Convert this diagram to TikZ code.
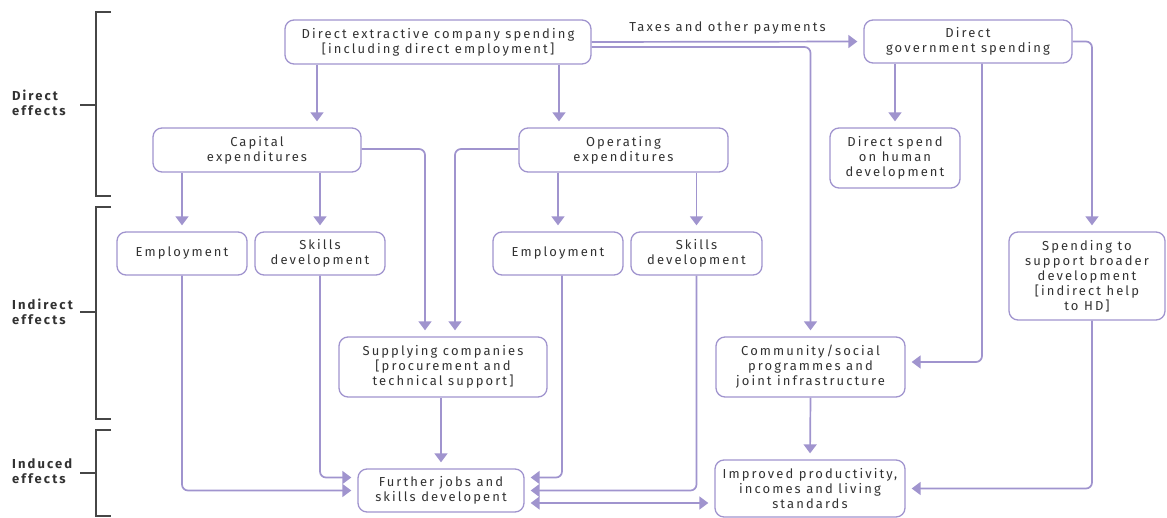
\documentclass[tikz,border=0pt]{standalone}
\usepackage{fontspec}
\setmainfont{Fira Sans}[LetterSpace=16]
\usetikzlibrary{arrows.meta,calc}
\definecolor{lc}{RGB}{160,148,206}
\definecolor{tc}{RGB}{50,50,50}
\definecolor{bc}{RGB}{70,70,70}
\begin{document}
\begin{tikzpicture}[x=1pt,y=-1pt,
  box/.style={draw=lc, line width=1.3pt, rounded corners=9pt, align=center, inner sep=0pt, text=tc,
    font=\fontsize{13}{15}\selectfont},
  arr/.style={draw=lc, line width=1.7pt, -{Triangle[length=9pt,width=13pt]}, shorten >=6pt, rounded corners=6pt},
  darr/.style={draw=lc, line width=1.7pt, {Triangle[length=9pt,width=13pt]}-{Triangle[length=9pt,width=13pt]}, shorten >=6pt, shorten <=6pt},
  brk/.style={draw=bc, line width=1.4pt},
  lab/.style={align=left, anchor=west, inner sep=0pt, text=tc, font=\fontsize{13}{15}\selectfont\bfseries}]
\useasboundingbox (0,0) rectangle (1167,518);

% boxes
\node[box, minimum width=306pt, minimum height=44pt] (top) at (438,42) {Direct extractive company spending\\{[}including direct employment]};
\node[box, minimum width=208pt, minimum height=43pt] (gov) at (968,41.5) {Direct\\government spending};
\node[box, minimum width=208pt, minimum height=44pt] (cap) at (257,150) {Capital\\expenditures};
\node[box, minimum width=209pt, minimum height=44pt] (op) at (623.5,150) {Operating\\expenditures};
\node[box, minimum width=130pt, minimum height=60pt] (dshd) at (895,158) {Direct spend\\on human\\development};
\node[box, minimum width=130pt, minimum height=43pt] (emp1) at (182,253.5) {Employment};
\node[box, minimum width=130pt, minimum height=43pt] (sk1) at (320,253.5) {Skills\\development};
\node[box, minimum width=130pt, minimum height=43pt] (emp2) at (558,253.5) {Employment};
\node[box, minimum width=131pt, minimum height=43pt] (sk2) at (696.5,253.5) {Skills\\development};
\node[box, minimum width=156pt, minimum height=88pt] (spend) at (1087,276) {Spending to\\support broader\\development\\{[}indirect help\\to HD]};
\node[box, minimum width=208pt, minimum height=60pt] (sup) at (443,367) {Supplying companies\\{[}procurement and\\technical support]};
\node[box, minimum width=189pt, minimum height=60pt] (comm) at (810.5,367) {Community/social\\programmes and\\joint infrastructure};
\node[box, minimum width=166pt, minimum height=43pt] (further) at (441,490.5) {Further jobs and\\skills developent};
\node[box, minimum width=190pt, minimum height=57pt] (impr) at (810,488.5) {Improved productivity,\\incomes and living\\standards};

% connectors
\coordinate (t1) at ([xshift=-121pt]top.south);
\coordinate (t2) at ([xshift=121pt]top.south);
\draw[arr] (t1) -- (t1 |- cap.north);
\draw[arr] (t2) -- (t2 |- op.north);
\draw[arr] (top.east) -- node[above=3pt, text=tc, font=\fontsize{13}{15}\selectfont] (taxlab) {Taxes and other payments} (gov.west);
\draw[arr] ([yshift=-5pt]top.east) -| (comm.north);
\draw[arr] (cap.south -| emp1.north) -- (emp1.north);
\draw[arr] (cap.south -| sk1.north) -- (sk1.north);
\draw[arr] (op.south -| emp2.north) -- (emp2.north);
\draw[arr] (op.south -| sk2.north) -- (sk2.north);
\draw[arr] (gov.south -| dshd.north) -- (dshd.north);
\coordinate (g1) at ([xshift=14pt]gov.south);
\draw[arr] (g1) |- ([yshift=5pt]comm.east);
\draw[arr] (gov.east) -| ([xshift=5pt]spend.north);
\draw[arr] ([xshift=5pt]spend.south) |- (impr.east);
\coordinate (s1) at ([xshift=-18pt]sup.north);
\coordinate (s2) at ([xshift=12pt]sup.north);
\draw[arr] ([yshift=1pt]cap.east) -| (s1);
\draw[arr] ([yshift=1pt]op.west) -| (s2);
\draw[arr] (sup.south -| further.north) -- (further.north);
\draw[arr] (comm.south) -- (impr.north);
\draw[arr] (emp1.south) |- (further.west);
\draw[arr] (sk1.south) |- ([yshift=13pt]further.west);
\draw[arr] ([xshift=4pt]emp2.south) |- ([yshift=13pt]further.east);
\draw[arr] (sk2.south) |- (further.east);
\draw[darr] ([yshift=-12.5pt]further.east) -- ([yshift=-12.5pt]further.east -| impr.west);

% brackets
\draw[brk] (111,12) -- (96,12) -- (96,196) -- (111,196);
\draw[brk] (80,105) -- (96,105);
\draw[brk] (111,207) -- (96,207) -- (96,419) -- (111,419);
\draw[brk] (80,312) -- (96,312);
\draw[brk] (111,430) -- (96,430) -- (96,516) -- (111,516);
\draw[brk] (80,473) -- (96,473);
\node[lab] (ld) at (12,103) {Direct\\effects};
\node[lab] (li) at (12,312) {Indirect\\effects};
\node[lab] (lu) at (12,471) {Induced\\effects};
\end{tikzpicture}
\end{document}
